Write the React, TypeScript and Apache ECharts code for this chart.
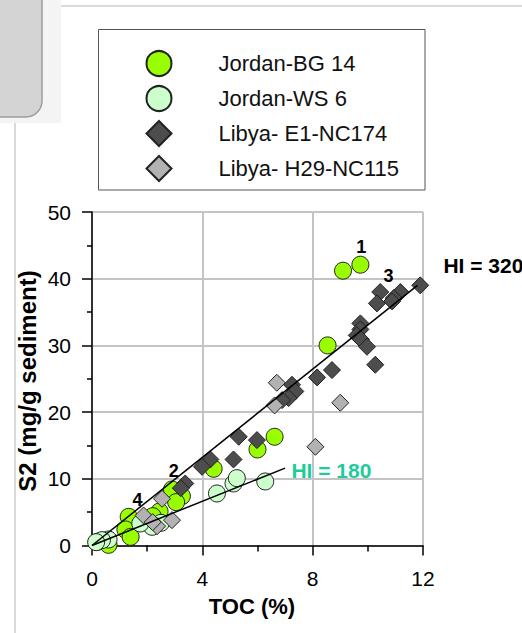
import React, { useEffect, useRef } from "react";
import * as echarts from "echarts";

const FONT = "'Liberation Sans', Arial, sans-serif";

const seriesNames = ["Jordan-BG 14", "Jordan-WS 6", "Libya- E1-NC174", "Libya- H29-NC115"];

const bgData: number[][] = [
  [9.10, 41.2], [9.73, 42.1], [8.54, 30.0], [6.62, 16.3], [6.00, 14.4], [4.41, 11.5],
  [3.26, 7.4], [2.90, 8.4], [3.05, 6.5], [2.45, 5.1], [2.20, 4.4], [1.33, 4.3],
  [1.21, 2.4], [1.40, 1.3], [0.24, 0.6], [0.60, 0.1],
];
const wsData: number[][] = [
  [4.53, 7.8], [5.13, 9.3], [5.25, 10.1], [6.28, 9.6], [2.50, 3.4], [2.18, 2.8],
  [1.75, 3.3], [0.60, 0.9], [0.36, 0.8], [0.15, 0.5],
];
const e1Data: number[][] = [
  [11.9, 39.0], [11.18, 38.0], [10.94, 37.1], [10.45, 38.0], [10.33, 36.3], [10.88, 36.6],
  [9.73, 33.3], [9.73, 32.4], [9.6, 31.5], [9.75, 30.9], [9.97, 29.8], [10.27, 27.1],
  [8.7, 26.3], [8.16, 25.2], [7.25, 24.1], [7.37, 23.1], [7.13, 22.1], [6.89, 21.8],
  [5.98, 15.8], [5.32, 16.3], [5.13, 12.9], [4.29, 12.9], [3.99, 11.8], [3.38, 9.3], [3.22, 8.6],
];
const h29Data: number[][] = [
  [6.7, 24.4], [6.62, 21.0], [8.1, 14.8], [9.0, 21.4], [2.54, 7.0], [1.87, 4.5],
  [2.36, 2.9], [2.9, 3.8], [2.2, 3.5],
];

const hi320Line: number[][] = [[0, 0], [11.8, 39.0]];
const hi180Line: number[][] = [[0, 0], [7.0, 11.6]];

const sampleLabels: (string | number)[][] = [
  ["1", 9.76, 44.8], ["3", 10.75, 40.4], ["2", 2.96, 11.1], ["4", 1.65, 6.8],
];
const hiLabels: (string | number)[][] = [
  ["HI = 320", 12.74, 42.0, "#000000"],
  ["HI = 180", 7.23, 11.3, "#1ecb9d"],
];

const xTicks = { min: 0, max: 12, interval: 4 };
const yTicks = { min: 0, max: 50, interval: 10 };

export default function App() {
  const ref = useRef<HTMLDivElement>(null);
  useEffect(() => {
    document.body.style.margin = "0";
    const chart = echarts.init(ref.current!, null, { renderer: "svg" });
    const scatter = (name: string, data: number[][], symbol: string, size: number, color: string, z: number) => ({
      type: "scatter",
      name,
      data,
      symbol,
      symbolSize: size,
      z,
      itemStyle: { color, borderColor: "#222", borderWidth: 1, opacity: 1 },
    });
    chart.setOption({
      animation: false,
      backgroundColor: "#ffffff",
      textStyle: { fontFamily: FONT },
      grid: { left: 92, top: 212, width: 331, height: 333.5, containLabel: false },
      legend: {
        orient: "vertical",
        left: 145.5,
        top: 50,
        padding: 0,
        itemWidth: 25,
        itemHeight: 25,
        itemGap: 8,
        data: seriesNames,
        textStyle: { fontSize: 22, color: "#111", fontFamily: FONT, padding: [0, 0, 0, 42] },
        selectedMode: false,
      },
      xAxis: {
        type: "value",
        ...xTicks,
        axisLine: { lineStyle: { color: "#000", width: 1.5 } },
        axisTick: { length: 10, lineStyle: { color: "#000", width: 1.5 } },
        minorTick: { show: true, splitNumber: 2, length: 6, lineStyle: { color: "#000", width: 1.5 } },
        splitLine: { show: true, lineStyle: { color: "#c4c4c4", width: 2 } },
        axisLabel: { fontSize: 21, color: "#000", margin: 22, fontFamily: FONT },
      },
      yAxis: {
        type: "value",
        ...yTicks,
        axisLine: { show: true, lineStyle: { color: "#000", width: 1.5 } },
        axisTick: { show: true, length: 10, lineStyle: { color: "#000", width: 1.5 } },
        minorTick: { show: true, splitNumber: 2, length: 5, lineStyle: { color: "#000", width: 1.5 } },
        splitLine: { show: true, lineStyle: { color: "#c4c4c4", width: 2 } },
        axisLabel: { fontSize: 21, color: "#000", margin: 21, fontFamily: FONT },
      },
      series: [
        scatter(seriesNames[0], bgData, "circle", 17, "#99ff00", 2),
        scatter(seriesNames[1], wsData, "circle", 17, "#ccffcc", 3),
        scatter(seriesNames[2], e1Data, "diamond", 17, "#4d4d4d", 4),
        scatter(seriesNames[3], h29Data, "diamond", 17, "#b2b2b2", 5),
        {
          type: "line", data: hi320Line, showSymbol: false, symbol: "none", z: 6,
          lineStyle: { color: "#000", width: 1.5 }, silent: true,
        },
        {
          type: "line", data: hi180Line, showSymbol: false, symbol: "none", z: 6,
          lineStyle: { color: "#000", width: 1.5 }, silent: true,
        },
        {
          type: "scatter", symbolSize: 0, z: 7, silent: true, clip: false,
          itemStyle: { opacity: 1 },
          data: sampleLabels.map((d) => ({ value: [d[1], d[2]], name: d[0] })),
          label: {
            show: true, position: "inside", formatter: (p: any) => p.name,
            fontSize: 18, fontWeight: "bold", color: "#000", fontFamily: FONT,
            textBorderWidth: 0,
          },
        },
        {
          type: "scatter", symbolSize: 0, z: 7, silent: true, clip: false,
          itemStyle: { opacity: 1 },
          data: hiLabels.map((d) => ({
            value: [d[1], d[2]], name: d[0],
            label: { color: d[3] as string },
          })),
          label: {
            show: true, position: "right", distance: 0, formatter: (p: any) => p.name,
            fontSize: 21, fontWeight: "bold", fontFamily: FONT, textBorderWidth: 0,
          },
        },
      ],
      graphic: [
        { type: "rect", left: 0, top: 0, z: -10, shape: { width: 61, height: 123 }, style: { fill: "#f4f4f4" } },
        {
          type: "rect", x: -10, y: -10, z: -9,
          shape: { width: 52, height: 127, r: [0, 0, 16, 0] },
          style: { fill: "#d4d4d4", stroke: "#9c9c9c", lineWidth: 1.5 },
        },
        { type: "line", z: -9, shape: { x1: 61, y1: 6, x2: 522, y2: 6 }, style: { stroke: "#dadada", lineWidth: 2 } },
        { type: "line", z: -9, shape: { x1: 15, y1: 123, x2: 15, y2: 633 }, style: { stroke: "#dadada", lineWidth: 2 } },
        {
          type: "rect", x: 98.5, y: 29.5, z: -5,
          shape: { width: 326.5, height: 160.5 },
          style: { fill: "#ffffff", stroke: "#555555", lineWidth: 1 },
        },
        {
          type: "text", x: 27, y: 381, rotation: Math.PI / 2,
          style: {
            text: "S2 (mg/g sediment)", fontSize: 24, fontWeight: "bold", fontFamily: FONT,
            fill: "#000", align: "center", verticalAlign: "middle",
          },
        },
        {
          type: "text", x: 252, y: 606,
          style: {
            text: "TOC (%)", fontSize: 22, fontWeight: "bold", fontFamily: FONT,
            fill: "#000", align: "center", verticalAlign: "middle",
          },
        },
      ],
    });
    return () => chart.dispose();
  }, []);
  return <div ref={ref} style={{ position: "absolute", left: 0, top: 0, width: 522, height: 633 }} />;
}
